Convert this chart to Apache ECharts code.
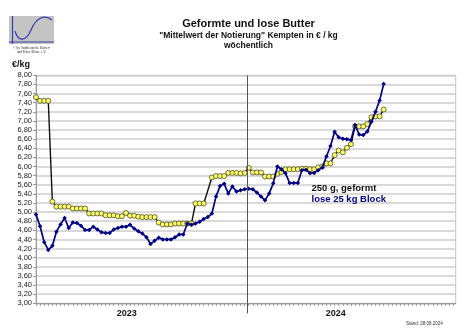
<!DOCTYPE html>
<html>
<head>
<meta charset="utf-8">
<script src="https://cdn.jsdelivr.net/npm/echarts@6/dist/echarts.min.js"></script>
<style>
  html, body { margin: 0; padding: 0; background: #fff; }
  #chart { width: 474px; height: 335px; }
</style>
</head>
<body>
<div id="chart"></div>
<script>
// Wochenwerte ab KW 1/2023 (Index 0), €/kg
var geformt = [7.52, 7.44, 7.44, 7.44, 5.23, 5.12, 5.12, 5.12, 5.12, 5.08,
  5.08, 5.08, 5.08, 4.97, 4.97, 4.97, 4.97, 4.93, 4.93, 4.93,
  4.91, 4.91, 4.98, 4.92, 4.92, 4.90, 4.89, 4.89, 4.89, 4.89,
  4.77, 4.73, 4.73, 4.73, 4.75, 4.75, 4.75, 4.75, 4.75, 5.19,
  5.19, 5.19, null, 5.76, 5.79, 5.79, 5.79, 5.86, 5.86, 5.86,
  5.85, 5.86, 5.97, 5.87, 5.87, 5.87, 5.78, 5.78, 5.78, 5.84,
  5.88, 5.94, 5.94, 5.94, 5.94, 5.95, 5.95, 5.94, 5.94, 5.98,
  6.00, 6.07, 6.07, 6.25, 6.35, 6.31, 6.41, 6.49, 6.88, 6.88,
  6.88, 6.93, 7.08, 7.10, 7.10, 7.25];
var loseBlock = [4.95, 4.69, 4.34, 4.17, 4.26, 4.57, 4.73, 4.87, 4.65, 4.77,
  4.76, 4.70, 4.61, 4.61, 4.68, 4.62, 4.56, 4.54, 4.54, 4.62,
  4.65, 4.68, 4.68, 4.72, 4.64, 4.58, 4.53, 4.45, 4.30, 4.37,
  4.44, 4.40, 4.40, 4.40, 4.45, 4.51, 4.51, 4.75, 4.72, 4.75,
  4.79, 4.85, 4.89, 4.97, 5.34, 5.57, 5.62, 5.41, 5.56, 5.45,
  5.48, 5.50, 5.51, 5.50, 5.43, 5.34, 5.26, 5.41, 5.63, 6.00,
  5.94, 5.85, 5.64, 5.64, 5.64, 5.92, 5.93, 5.85, 5.86, 5.92,
  5.98, 6.22, 6.45, 6.76, 6.64, 6.61, 6.60, 6.58, 6.91, 6.70,
  6.69, 6.77, 6.98, 7.20, 7.45, 7.81];

var seriesNames = ['250 g, geformt', 'lose 25 kg Block'];
var yearLabels = ['2023', '2024'];
var yearLabelPos = [22.2, 73.3];
var yearBreak = 51.6;
var xMax = 102.6;

var weekTicks = [];
for (var w = 0; w <= 102; w++) weekTicks.push(w);

function toPoints(arr) {
  return arr.map(function (v, i) { return [i, v]; });
}

var chart = echarts.init(document.getElementById('chart'), null, { renderer: 'canvas' });
var font = 'Liberation Sans, Arial, sans-serif';
var logoBlue = '#3a3ab0';

var option = {
  animation: false,
  backgroundColor: '#fff',
  title: {
    text: 'Geformte und lose Butter',
    subtext: '"Mittelwert der Notierung" Kempten in € / kg\nwöchentlich',
    left: 243.5,
    top: 13,
    textAlign: 'center',
    itemGap: 2,
    textStyle: { fontFamily: font, fontSize: 11, fontWeight: 'bold', color: '#111' },
    subtextStyle: { fontFamily: font, fontSize: 8.5, fontWeight: 'bold', color: '#111', lineHeight: 10 }
  },
  legend: {
    orient: 'vertical',
    left: 306.5,
    top: 183,
    padding: 0,
    itemWidth: 0,
    itemHeight: 0,
    itemGap: 1,
    icon: 'none',
    selectedMode: false,
    textStyle: { fontFamily: font, fontSize: 9.5, fontWeight: 'bold' },
    data: [
      { name: seriesNames[0], textStyle: { color: '#111' } },
      { name: seriesNames[1], textStyle: { color: '#000080' } }
    ]
  },
  grid: {
    left: 36, right: 18.3, top: 75.3, bottom: 31.7,
    show: true, borderColor: '#c4c4c4', borderWidth: 1
  },
  xAxis: [{
    type: 'value',
    min: 0,
    max: xMax,
    splitLine: { show: false },
    axisLine: { show: true, lineStyle: { color: '#999', width: 1 } },
    axisTick: { show: true, customValues: weekTicks, length: 2.5, lineStyle: { color: '#999' } },
    axisLabel: {
      customValues: yearLabelPos,
      margin: 6,
      fontFamily: font, fontSize: 9, fontWeight: 'bold', color: '#111',
      formatter: function (v) { return yearLabels[yearLabelPos.indexOf(v)]; }
    }
  }, {
    type: 'value',
    min: 0,
    max: xMax,
    position: 'bottom',
    splitLine: { show: false },
    axisLine: { show: false },
    axisLabel: { show: false },
    axisTick: { show: true, customValues: [yearBreak], length: 10, lineStyle: { color: '#555' } }
  }],
  yAxis: {
    type: 'value',
    min: 3,
    max: 8,
    interval: 0.2,
    name: '€/kg',
    nameLocation: 'end',
    nameGap: 6,
    nameTextStyle: { fontFamily: font, fontSize: 9, fontWeight: 'bold', color: '#111', align: 'right', padding: [0, 6, 0, 0] },
    axisLine: { show: true, lineStyle: { color: '#999' } },
    axisTick: { show: true, length: 3, lineStyle: { color: '#999' } },
    axisLabel: {
      fontFamily: font, fontSize: 7.5, color: '#222', margin: 4,
      formatter: function (v) { return v.toFixed(2).replace('.', ','); }
    },
    splitLine: { show: true, lineStyle: { color: '#cdcdcd', width: 1.5 } }
  },
  series: [{
    name: seriesNames[0],
    type: 'line',
    data: toPoints(geformt),
    connectNulls: true,
    symbol: 'circle',
    symbolSize: 5,
    lineStyle: { color: '#111', width: 1.4 },
    itemStyle: { color: '#ffff70', borderColor: '#4a4a20', borderWidth: 0.8 },
    z: 2
  }, {
    name: seriesNames[1],
    type: 'line',
    data: toPoints(loseBlock),
    symbol: 'diamond',
    symbolSize: 4.5,
    lineStyle: { color: '#000080', width: 1.7 },
    itemStyle: { color: '#000080' },
    z: 3,
    markLine: {
      silent: true,
      symbol: ['none', 'none'],
      label: { show: false },
      lineStyle: { color: '#555', width: 1, type: 'solid' },
      data: [{ xAxis: yearBreak }]
    }
  }],
  graphic: [
    { type: 'rect', shape: { x: 9, y: 16, width: 45, height: 28 }, style: { fill: '#c4c4c4' } },
    { type: 'line', shape: { x1: 12.5, y1: 16, x2: 12.5, y2: 44 }, style: { stroke: logoBlue, lineWidth: 1.2 } },
    { type: 'line', shape: { x1: 9, y1: 42, x2: 54, y2: 42 }, style: { stroke: logoBlue, lineWidth: 1.2 } },
    { type: 'bezierCurve', shape: { x1: 15, y1: 31, cpx1: 18, cpy1: 42, cpx2: 26, cpy2: 42, x2: 31, y2: 30 }, style: { fill: 'none', stroke: logoBlue, lineWidth: 1.2 } },
    { type: 'bezierCurve', shape: { x1: 31, y1: 30, cpx1: 36, cpy1: 18, cpx2: 44, cpy2: 14, x2: 52, y2: 20 }, style: { fill: 'none', stroke: logoBlue, lineWidth: 1.2 } },
    { type: 'text', style: { text: '© by Süddeutsche Butter-', x: 31.5, y: 48, fontSize: 3.6, fontFamily: 'Liberation Serif, serif', fill: '#333', align: 'center', verticalAlign: 'middle' } },
    { type: 'text', style: { text: 'und Käse-Börse e.V.', x: 31.5, y: 52, fontSize: 3.6, fontFamily: 'Liberation Serif, serif', fill: '#333', align: 'center', verticalAlign: 'middle' } },
    { type: 'text', style: { text: 'Stand: 28.08.2024', x: 406, y: 324, fontSize: 4.5, fontFamily: font, fill: '#333', verticalAlign: 'middle' } }
  ]
};

chart.setOption(option);
</script>
</body>
</html>
